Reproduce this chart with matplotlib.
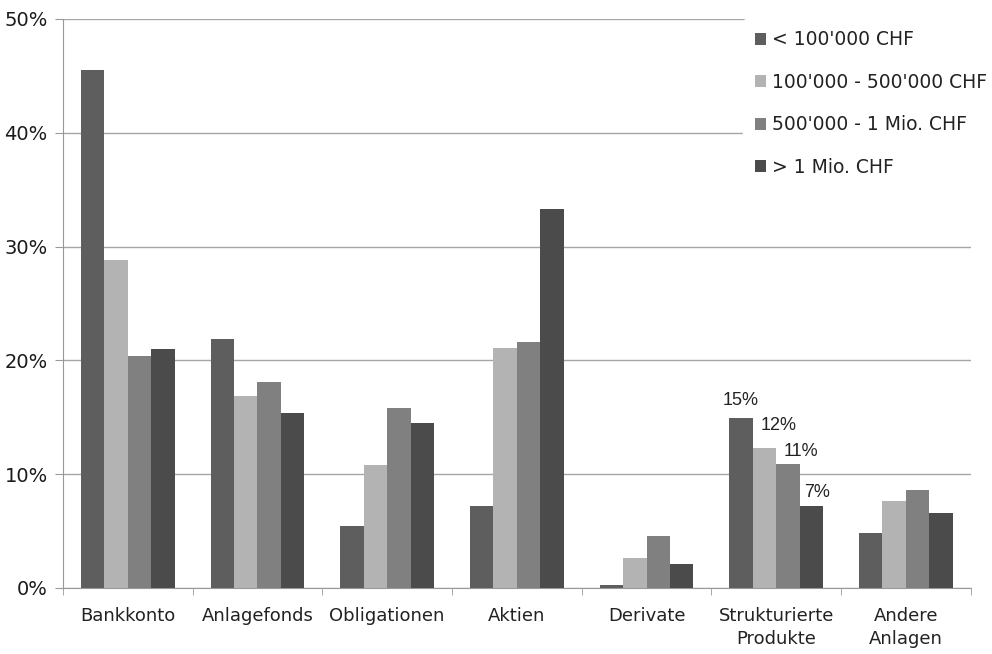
import numpy as np
import matplotlib
matplotlib.use("Agg")
import matplotlib.pyplot as plt
from matplotlib.ticker import FuncFormatter

plt.rcParams['font.family'] = ['DejaVu Sans']

categories = ["Bankkonto", "Anlagefonds", "Obligationen", "Aktien",
              "Derivate", "Strukturierte\nProdukte", "Andere\nAnlagen"]
series_names = ["< 100'000 CHF", "100'000 - 500'000 CHF",
                "500'000 - 1 Mio. CHF", "> 1 Mio. CHF"]
under_100k = [45.5, 21.9, 5.4, 7.2, 0.3, 14.9, 4.8]
k100_500k = [28.8, 16.9, 10.8, 21.1, 2.6, 12.3, 7.6]
k500_1mio = [20.4, 18.1, 15.8, 21.6, 4.6, 10.9, 8.6]
over_1mio = [21.0, 15.4, 14.5, 33.3, 2.1, 7.2, 6.6]
struct_labels = ["15%", "12%", "11%", "7%"]

colors = ["#5e5e5e", "#b3b3b3", "#808080", "#4b4b4b"]
series = [under_100k, k100_500k, k500_1mio, over_1mio]

fig = plt.figure(figsize=(9.92, 6.54), dpi=100)
ax = fig.add_axes([0.0635, 0.101, 0.915, 0.87])

x = np.arange(len(categories))
w = 0.18
for i, (vals, c, name) in enumerate(zip(series, colors, series_names)):
    ax.bar(x + (i - 1.5) * w, vals, width=w, color=c, label=name, zorder=3)

# value labels on "Strukturierte Produkte"
idx = 5
offs = [(-0.7, 12.8), (10, 16.5), (9.4, 8.6), (4.3, 9.4)]
for i, lab in enumerate(struct_labels):
    ax.annotate(lab, (x[idx] + (i - 1.5) * w, series[i][idx]),
                xytext=offs[i], textcoords="offset points",
                ha="center", va="center", fontsize=13,
                family="Liberation Sans", color="#222222", zorder=4)

ax.set_xlim(-0.5, len(categories) - 0.5)
ax.set_ylim(0, 50)
ax.set_yticks(np.arange(0, 51, 10))
ax.yaxis.set_major_formatter(FuncFormatter(lambda v, p: "{:.0f}%".format(v)))
ax.grid(axis="y", color="#a6a6a6", linewidth=1.0, zorder=0)
ax.set_xticks(x)
ax.set_xticklabels(categories, fontsize=13, color="#222222", linespacing=1.3)
ax.set_xticks(np.arange(-0.5, len(categories)), minor=True)
ax.tick_params(axis="x", which="major", length=0, pad=14)
ax.tick_params(axis="x", which="minor", length=5, color="#999999")
ax.tick_params(axis="y", length=6, color="#999999", labelsize=14,
               labelcolor="#1a1a1a", pad=5)
for s in ["top", "right"]:
    ax.spines[s].set_visible(False)
ax.spines["left"].set_color("#999999")
ax.spines["bottom"].set_color("#999999")

leg = fig.legend(loc="upper left", bbox_to_anchor=(0.74, 0.985),
                 frameon=True, edgecolor="white", framealpha=1.0,
                 fontsize=13.5, handlelength=0.6, handleheight=0.6,
                 handletextpad=0.3, labelspacing=1.25, borderpad=0.6)
for t in leg.get_texts():
    t.set_color("#222222")

fig.savefig("out.png", dpi=100)
